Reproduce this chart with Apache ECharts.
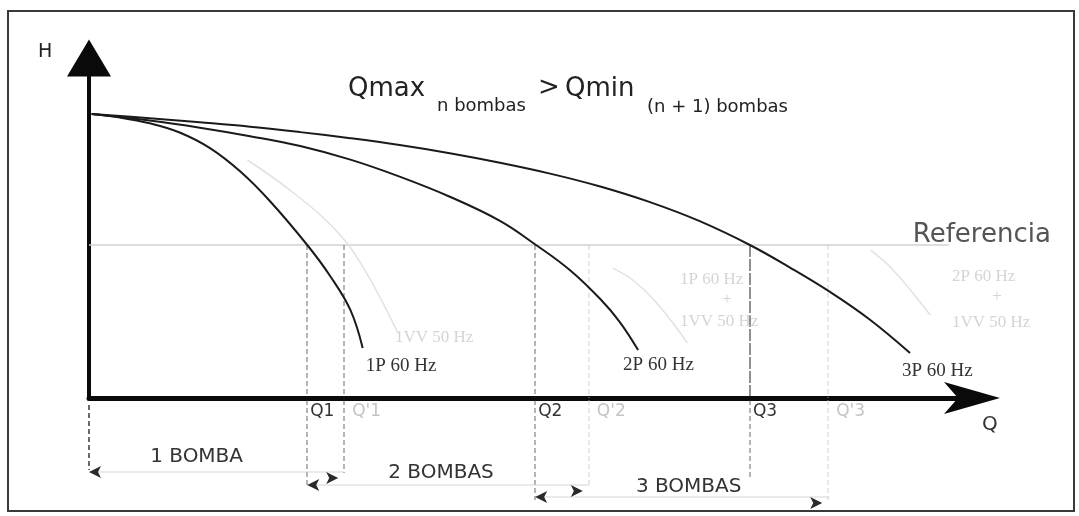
<!DOCTYPE html>
<html>
<head>
<meta charset="utf-8">
<script src="https://cdn.jsdelivr.net/npm/echarts@6/dist/echarts.min.js"></script>
<style>
  html, body { margin: 0; padding: 0; background: #fff; }
  #c { width: 1079px; height: 516px; }
</style>
</head>
<body>
<div id="c"></div>
<script>
// Head (H) vs flow (Q) for 1, 2 and 3 pumps at 60 Hz, schematic units 0-100
const curve1P = [[0.3, 83.5], [3.5, 82.5], [6.9, 80.8], [10.3, 78.1], [13.75, 73.5], [17.2, 66.6], [20.6, 57.8], [24.8, 45.0], [27.4, 35.9], [29.7, 25.9], [31.1, 14.7]];
const curve2P = [[0.3, 83.5], [6.9, 81.6], [12.6, 79.5], [18.3, 77.0], [24.0, 74.1], [29.7, 70.1], [35.3, 65.1], [41.0, 59.2], [46.7, 52.1], [50.8, 45.0], [54.7, 37.5], [58.1, 29.1], [60.3, 22.4], [62.4, 14.1]];
const curve3P = [[0.3, 83.5], [6.9, 82.3], [12.6, 81.1], [18.3, 79.8], [24.0, 78.2], [29.7, 76.4], [35.3, 74.4], [41.0, 72.0], [46.7, 69.2], [52.4, 66.0], [58.1, 62.2], [63.75, 57.6], [69.4, 52.0], [75.1, 45.0], [79.7, 38.3], [84.2, 31.2], [88.75, 23.0], [93.3, 13.2]];
const curveNames = ['1P 60 Hz', '2P 60 Hz', '3P 60 Hz'];

// Variable-speed combinations (drawn faint)
const curveVV1 = [[18.0, 70.0], [22.8, 61.2], [27.7, 50.3], [31.0, 39.1], [35.1, 19.1]];
const curveVV2 = [[59.5, 38.2], [61.8, 34.7], [64.5, 28.0], [68.0, 16.2]];
const curveVV3 = [[88.8, 43.5], [91.4, 37.6], [95.6, 24.4]];
const vvNames = ['1VV 50 Hz', '1P 60 Hz', '+', '1VV 50 Hz', '2P 60 Hz', '+', '1VV 50 Hz'];

// Reference head and its line length
const hRef = 45.0;
const refEnd = 97.7;
const refName = 'Referencia';

// Switching flows: Qn (start of n pumps) and Q'n (max flow of n pumps)
const qSwitch = [24.8, 50.7, 75.1];
const qSwitchMax = [29.0, 56.8, 84.0];
const qLabels = ['Q1', 'Q2', 'Q3'];
const qMaxLabels = ["Q'1", "Q'2", "Q'3"];

// Depth below the Q axis (0-110) reached by each drop line and range arrow
const dropQ = [88, 100, 77];
const dropQmax = [73, 87, 100];
const originDrop = [5, 70];
const rangeNames = ['1 BOMBA', '2 BOMBAS', '3 BOMBAS'];
const rangeDepth = [72, 85, 97];

const titleParts = ['Qmax', 'n bombas', '>', 'Qmin', '(n + 1) bombas'];

const SANS = '"DejaVu Sans", sans-serif';
const SERIF = '"Liberation Serif", serif';
const DARK = '#1a1a1a';

const chart = echarts.init(document.getElementById('c'), null, { renderer: 'canvas' });

const rangeStart = [0, qSwitch[0], qSwitch[1]];
const rangeEnd = qSwitchMax;

const darkDash = { color: '#3a3a3a', width: 1.5, type: [5, 3] };
const lightDash = { color: '#c2c2c2', width: 1.5, type: [5, 3] };
const solidDash = { color: '#222', width: 2, type: [12, 2] };
const upperStyleQ = [darkDash, darkDash, solidDash];
const upperStyleQmax = [darkDash, lightDash, lightDash];
const lowerStyleQmax = [darkDash, lightDash, lightDash];

const upperDrops = [];
const lowerDrops = [];
qSwitch.forEach((q, i) => {
  upperDrops.push({ coords: [[q, hRef], [q, 0]], lineStyle: upperStyleQ[i] });
  upperDrops.push({ coords: [[qSwitchMax[i], hRef], [qSwitchMax[i], 0]], lineStyle: upperStyleQmax[i] });
  lowerDrops.push({ coords: [[q, 0], [q, dropQ[i]]], lineStyle: darkDash });
  lowerDrops.push({ coords: [[qSwitchMax[i], 0], [qSwitchMax[i], dropQmax[i]]], lineStyle: lowerStyleQmax[i] });
});
const rangeLines = rangeNames.map((n, i) => ({
  coords: [[rangeStart[i], rangeDepth[i]], [rangeEnd[i], rangeDepth[i]]],
  lineStyle: { color: '#c8c8c8', width: 1.5, type: 'solid' }
}));

const series = [];
[curve1P, curve2P, curve3P].forEach((d, i) => {
  series.push({
    type: 'line', name: curveNames[i], data: d, xAxisIndex: 0, yAxisIndex: 0,
    smooth: 0.4, symbol: 'none', clip: false, z: 5,
    lineStyle: { color: DARK, width: 2 }
  });
});
[curveVV1, curveVV2, curveVV3].forEach((d) => {
  series.push({
    type: 'line', data: d, xAxisIndex: 0, yAxisIndex: 0,
    smooth: 0.4, symbol: 'none', clip: false, z: 2,
    lineStyle: { color: '#e2e2e2', width: 1.5 }
  });
});
series.push({
  type: 'line', name: refName, data: [[0, hRef], [refEnd, hRef]], xAxisIndex: 0, yAxisIndex: 0,
  symbol: 'none', clip: false, z: 1, lineStyle: { color: '#d2d2d2', width: 1.5 }
});
series.push({
  type: 'lines', coordinateSystem: 'cartesian2d', xAxisIndex: 0, yAxisIndex: 0,
  polyline: false, clip: false, z: 3, data: upperDrops
});
series.push({
  type: 'lines', coordinateSystem: 'cartesian2d', xAxisIndex: 1, yAxisIndex: 1,
  polyline: false, clip: false, z: 3, data: lowerDrops.concat(rangeLines)
});
series.push({
  type: 'line', data: [[0, originDrop[0]], [0, originDrop[1]]], xAxisIndex: 1, yAxisIndex: 1,
  symbol: 'none', clip: false, z: 3, lineStyle: darkDash,
  markLine: {
    silent: true, symbol: ['arrow', 'arrow'], symbolSize: [9, 12], symbolOffset: [0, 6],
    lineStyle: { color: '#2a2a2a', width: 0, type: 'solid' },
    label: { show: false },
    data: rangeNames.map((n, i) => [
      { coord: [rangeStart[i], rangeDepth[i]] },
      { coord: [rangeEnd[i], rangeDepth[i]] }
    ])
  }
});

chart.setOption({
  animation: false,
  backgroundColor: '#ffffff',
  grid: [
    { left: 89, right: 110, top: 58, bottom: 118 },
    { left: 89, right: 110, top: 400, bottom: 6 }
  ],
  xAxis: [
    {
      gridIndex: 0, type: 'value', min: 0, max: 100,
      axisLine: { show: true, onZero: false, symbol: ['none', 'arrow'], symbolSize: [24, 56],
        symbolOffset: [0, 31], lineStyle: { color: '#0a0a0a', width: 5 } },
      axisTick: { show: false }, axisLabel: { show: false }, splitLine: { show: false }
    },
    { gridIndex: 1, type: 'value', min: 0, max: 100, show: false, splitLine: { show: false } }
  ],
  yAxis: [
    {
      gridIndex: 0, type: 'value', min: 0, max: 100,
      axisLine: { show: true, onZero: false, symbol: ['none', 'triangle'], symbolSize: [44, 37],
        lineStyle: { color: '#0a0a0a', width: 4 } },
      axisTick: { show: false }, axisLabel: { show: false }, splitLine: { show: false }
    },
    { gridIndex: 1, type: 'value', min: 0, max: 110, inverse: true, show: false, splitLine: { show: false } }
  ],
  series: series
});

// Text annotations placed against the chart's own coordinates
const px = (q, h) => chart.convertToPixel({ gridIndex: 0 }, [q, h]);
const px1 = (q, d) => chart.convertToPixel({ gridIndex: 1 }, [q, d]);

function txt(text, x, y, size, color, opts) {
  opts = opts || {};
  return {
    type: 'text', silent: true, z: 10,
    style: {
      text: text, x: x, y: y, fill: color,
      font: (opts.weight || 'normal') + ' ' + size + 'px ' + (opts.family || SANS),
      align: opts.align || 'left', verticalAlign: 'middle'
    }
  };
}

const graphic = [];
// frame
graphic.push({ type: 'rect', silent: true, z: 0,
  shape: { x: 8, y: 11, width: 1066, height: 500 },
  style: { fill: 'none', stroke: '#3a3a3a', lineWidth: 2 } });

// axis names
graphic.push(txt('H', 38, 52, 19, '#222'));
const qEnd = px(100, 0);
graphic.push(txt('Q', qEnd[0] + 13, qEnd[1] + 27, 20, '#333'));

// title with subscripts
const titleX = [348, 437, 538, 565, 647];
const titleY = [89, 106, 88, 89, 107];
const titleSize = [26, 18, 26, 26, 18];
titleParts.forEach((t, i) => graphic.push(txt(t, titleX[i], titleY[i], titleSize[i], '#222')));

// reference label
const refPt = px(refEnd, hRef);
graphic.push(txt(refName, refPt[0] - 36, refPt[1] - 10, 26, '#555'));

// curve end labels
const curveEnds = [curve1P, curve2P, curve3P].map(d => d[d.length - 1]);
const labelOffsets = [[3, 18], [-15, 15], [-8, 18]];
curveEnds.forEach((p, i) => {
  const c = px(p[0], p[1]);
  graphic.push(txt(curveNames[i], c[0] + labelOffsets[i][0], c[1] + labelOffsets[i][1], 19, '#333', { family: SERIF }));
});

// faint variable-speed labels
const vvPos = [[395, 338], [680, 280], [727, 300], [680, 322], [952, 277], [997, 297], [952, 323]];
vvNames.forEach((t, i) => {
  const centred = t === '+';
  graphic.push(txt(t, vvPos[i][0], vvPos[i][1], 17, '#d4d4d4', { family: SERIF, align: centred ? 'center' : 'left' }));
});

// flow marks under the axis
qSwitch.forEach((q, i) => {
  const a = px(q, 0);
  graphic.push(txt(qLabels[i], a[0] + 3, a[1] + 14, 17, '#333'));
  const b = px(qSwitchMax[i], 0);
  graphic.push(txt(qMaxLabels[i], b[0] + 8, b[1] + 14, 17, '#c4c4c4'));
});

// pump-range labels above their arrows
const rangeLabelShift = [[-20, -15], [-7, -12], [7, -10]];
rangeNames.forEach((n, i) => {
  const s = px1(rangeStart[i], rangeDepth[i]);
  const e = px1(rangeEnd[i], rangeDepth[i]);
  graphic.push(txt(n, (s[0] + e[0]) / 2 + rangeLabelShift[i][0], s[1] + rangeLabelShift[i][1], 20, '#333', { align: 'center' }));
});

chart.setOption({ graphic: graphic });
</script>
</body>
</html>
